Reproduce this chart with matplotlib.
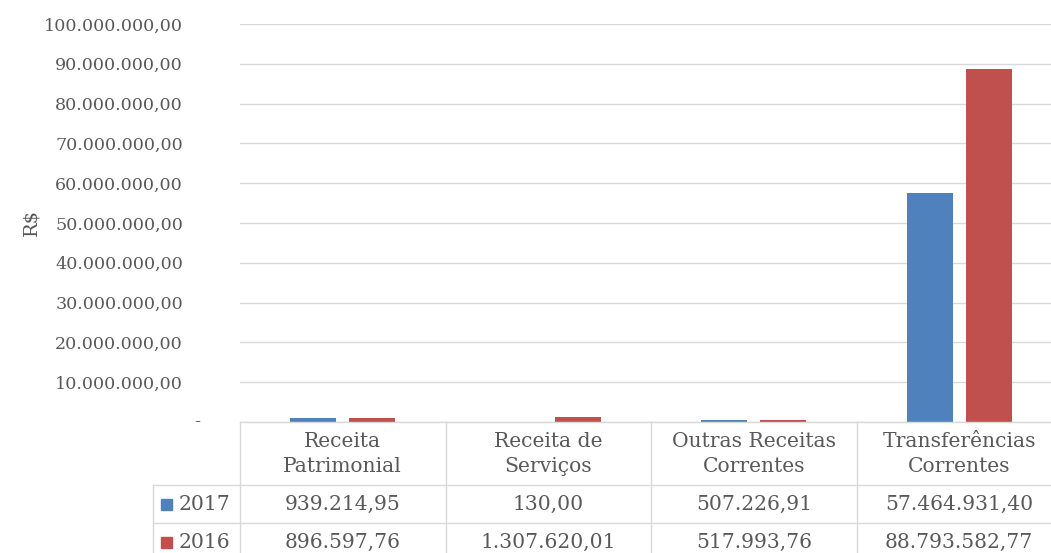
import numpy as np
import matplotlib.pyplot as plt
from matplotlib.lines import Line2D
from matplotlib.patches import Rectangle

plt.rcParams['font.family'] = ['DejaVu Serif']

categorias = ["Receita\nPatrimonial", "Receita de\nServiços",
              "Outras Receitas\nCorrentes", "Transferências\nCorrentes"]
anos = ["2017", "2016"]
valores_2017 = [939214.95, 130.00, 507226.91, 57464931.40]
valores_2016 = [896597.76, 1307620.01, 517993.76, 88793582.77]
cores = ["#4F81BD", "#C0504D"]

W, H = 1051, 553
texto = "#595959"
grade = "#D9D9D9"
fs_tab = 14.6


def br(v):
    s = f"{v:,.2f}"
    return s.replace(",", "X").replace(".", ",").replace("X", ".")


def fx(x):
    return x / W


def fy(y):
    return 1 - y / H


fig = plt.figure(figsize=(W / 100, H / 100), dpi=100)

# plot area in pixels
x0, x1 = 240, 1062
y_top, y_bot = 24, 422
ax = fig.add_axes([fx(x0), fy(y_bot), (x1 - x0) / W, (y_bot - y_top) / H])

n = len(categorias)
x = np.arange(n)
larg = 0.224
desl = 0.144
ax.bar(x - desl, valores_2017, larg, color=cores[0], zorder=3)
ax.bar(x + desl, valores_2016, larg, color=cores[1], zorder=3)

ax.set_xlim(-0.5, n - 0.5)
ax.set_ylim(0, 100_000_000)
ticks = np.arange(0, 100_000_001, 10_000_000)
ax.set_yticks(ticks)
ax.set_yticklabels(["" if t == 0 else br(t) for t in ticks],
                   fontsize=12.6, color=texto)
ax.set_xticks([])
ax.tick_params(axis="y", length=0, pad=41)
ax.grid(axis="y", color=grade, linewidth=1, zorder=0)
for s in ax.spines.values():
    s.set_visible(False)
# accounting style zero
ax.text((197 - x0) / (x1 - x0), 0, "-", transform=ax.get_yaxis_transform(),
        ha="center", va="center", fontsize=13, color=texto)

fig.text(fx(31), fy(222), "R$", rotation=90, ha="center", va="center",
         fontsize=14, color=texto)

# data table under the chart
col_w = (x1 - x0) / n
lin = dict(color=grade, linewidth=1, transform=fig.transFigure)
fig.add_artist(Line2D([fx(x0), 1], [fy(422), fy(422)], **lin))
for yy in (485, 523):
    fig.add_artist(Line2D([fx(153), 1], [fy(yy), fy(yy)], **lin))
fig.add_artist(Line2D([fx(153), fx(153)], [fy(485), 0], **lin))
for i in range(n):
    xc = x0 + i * col_w
    fig.add_artist(Line2D([fx(xc), fx(xc)], [fy(422), 0], **lin))

for i, cat in enumerate(categorias):
    xc = x0 + (i + 0.5) * col_w
    fig.text(fx(xc), fy(454), cat, ha="center", va="center", fontsize=fs_tab,
             color=texto, linespacing=1.45)
    fig.text(fx(xc), fy(504), br(valores_2017[i]), ha="center", va="center",
             fontsize=fs_tab, color=texto)
    fig.text(fx(xc), fy(542), br(valores_2016[i]), ha="center", va="center",
             fontsize=fs_tab, color=texto)

for j, (ano, yy) in enumerate(zip(anos, (504, 542))):
    fig.add_artist(Rectangle((fx(161), fy(yy + 6)), 11 / W, 11 / H,
                             color=cores[j], transform=fig.transFigure))
    fig.text(fx(179), fy(yy), ano, ha="left", va="center", fontsize=fs_tab,
             color=texto)

fig.savefig("out.png", dpi=100)
